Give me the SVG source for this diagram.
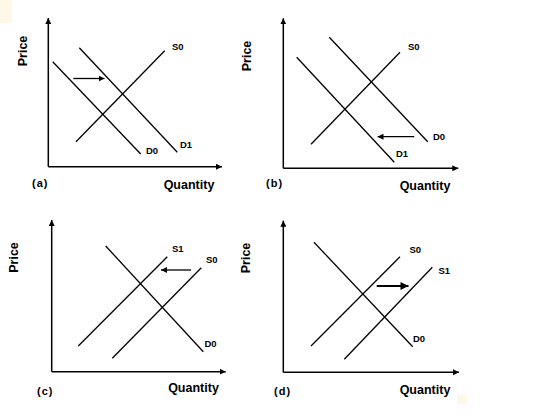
<svg xmlns="http://www.w3.org/2000/svg" width="536" height="418" viewBox="0 0 536 418">
<defs>
<marker id="ax" viewBox="0 0 10 10" refX="10" refY="5" markerWidth="6" markerHeight="6" markerUnits="userSpaceOnUse" orient="auto"><path d="M0,0 L10,5 L0,10 z" fill="#000"/></marker>
<marker id="sh" viewBox="0 0 10 10" refX="10" refY="5" markerWidth="6" markerHeight="6" markerUnits="userSpaceOnUse" orient="auto"><path d="M0,0 L10,5 L0,10 z" fill="#000"/></marker>
<marker id="big" viewBox="0 0 10 10" refX="10" refY="5" markerWidth="9" markerHeight="8" markerUnits="userSpaceOnUse" orient="auto"><path d="M0,0 L10,5 L0,10 z" fill="#000"/></marker>
</defs>
<style>
.ax{stroke:#000;stroke-width:1.5;fill:none;marker-end:url(#ax)}
.cv{stroke:#000;stroke-width:1.3;fill:none}
.sh{stroke:#000;stroke-width:1.3;fill:none;marker-end:url(#sh)}
.shb{stroke:#000;stroke-width:2;fill:none;marker-end:url(#big)}
text{font-family:"Liberation Sans",Arial,sans-serif;font-weight:bold;fill:#000}
.lb{font-size:9.5px}
.tt{font-size:12.5px}
.pn{font-size:11px;letter-spacing:1px}
</style>
<rect x="0" y="0" width="536" height="418" fill="#fff"/>
<rect x="0" y="0" width="12" height="23" fill="#FFF8E8"/>
<rect x="457" y="395" width="10" height="9" fill="#FFF8E8"/>

<g id="panel-a">
<line class="ax" x1="48.3" y1="166.7" x2="48.3" y2="18"/>
<line class="ax" x1="48.3" y1="166.7" x2="222" y2="166.7"/>
<text class="tt" transform="translate(27,51) rotate(-90)" text-anchor="middle">Price</text>
<text class="pn" x="32" y="187">(a)</text>
<text class="tt" x="189" y="189" text-anchor="middle">Quantity</text>
<g id="a-D0"><line class="cv" x1="52.7" y1="61.7" x2="140.7" y2="154"/><text class="lb" x="146" y="154">D0</text></g>
<g id="a-D1"><line class="cv" x1="79.3" y1="47.7" x2="177.3" y2="152.3"/><text class="lb" x="180" y="148">D1</text></g>
<g id="a-S0"><line class="cv" x1="76" y1="141.7" x2="164.7" y2="50.7"/><text class="lb" x="172" y="50">S0</text></g>
</g>

<g id="panel-b">
<line class="ax" x1="283.3" y1="168.3" x2="283.3" y2="18.3"/>
<line class="ax" x1="283.3" y1="168.3" x2="458.3" y2="168.3"/>
<text class="tt" transform="translate(251,56) rotate(-90)" text-anchor="middle">Price</text>
<text class="pn" x="266" y="187">(b)</text>
<text class="tt" x="425" y="190" text-anchor="middle">Quantity</text>
<g id="b-D1"><line class="cv" x1="296.7" y1="57.3" x2="394.3" y2="162.3"/><text class="lb" x="396" y="157">D1</text></g>
<g id="b-D0"><line class="cv" x1="329.3" y1="37.3" x2="427.7" y2="141.7"/><text class="lb" x="433" y="140">D0</text></g>
<g id="b-S0"><line class="cv" x1="311" y1="144.3" x2="400" y2="52.3"/><text class="lb" x="408" y="50">S0</text></g>
</g>

<g id="panel-c">
<line class="ax" x1="51.7" y1="371.7" x2="51.7" y2="220"/>
<line class="ax" x1="51.7" y1="371.7" x2="225.7" y2="371.7"/>
<text class="tt" transform="translate(18,257.5) rotate(-90)" text-anchor="middle">Price</text>
<text class="pn" x="37" y="395">(c)</text>
<text class="tt" x="193.5" y="392" text-anchor="middle">Quantity</text>
<g id="c-D0"><line class="cv" x1="105.7" y1="246" x2="203.3" y2="351.7"/><text class="lb" x="204.5" y="347">D0</text></g>
<g id="c-S1"><line class="cv" x1="78.3" y1="346" x2="167.3" y2="256.7"/><text class="lb" x="172" y="251.5">S1</text></g>
<g id="c-S0"><line class="cv" x1="112.3" y1="358.3" x2="201.3" y2="267.7"/><text class="lb" x="206" y="263">S0</text></g>
</g>

<g id="panel-d">
<line class="ax" x1="283.3" y1="372.3" x2="283.3" y2="220.7"/>
<line class="ax" x1="283.3" y1="372.3" x2="459" y2="372.3"/>
<text class="tt" transform="translate(250,258) rotate(-90)" text-anchor="middle">Price</text>
<text class="pn" x="274" y="395">(d)</text>
<text class="tt" x="425" y="394" text-anchor="middle">Quantity</text>
<g id="d-D0"><line class="cv" x1="314" y1="242.3" x2="412.7" y2="346.7"/><text class="lb" x="413" y="341.5">D0</text></g>
<g id="d-S0"><line class="cv" x1="311" y1="346" x2="400" y2="256.7"/><text class="lb" x="409.5" y="253">S0</text></g>
<g id="d-S1"><line class="cv" x1="344.3" y1="359.3" x2="432.3" y2="267.3"/><text class="lb" x="438.5" y="274">S1</text></g>
</g>

<g id="connectors">
<line class="sh" x1="73.3" y1="78.5" x2="104.5" y2="78.5"/>
<line class="sh" x1="414.3" y1="136.7" x2="377.5" y2="136.7"/>
<line class="sh" x1="191" y1="270" x2="161" y2="270"/>
<line class="shb" x1="376.7" y1="286" x2="408.5" y2="286"/>
</g>
</svg>
